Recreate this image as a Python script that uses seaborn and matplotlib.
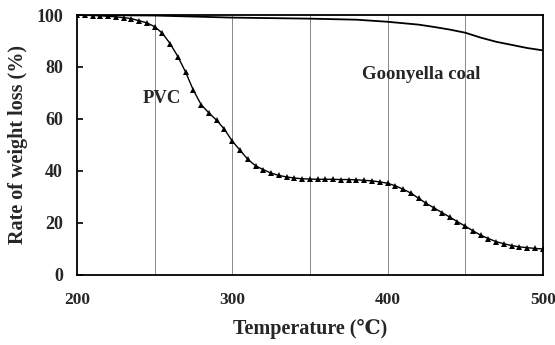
import matplotlib
matplotlib.use("Agg")
import matplotlib.pyplot as plt
import seaborn as sns
import pandas as pd

temp_pvc = list(range(200, 501, 5))
pvc = [100, 99.9, 99.8, 99.7, 99.5, 99.3, 99.0, 98.6, 97.8, 97.0,
       95.5, 93.0, 89.0, 84.0, 78.0, 71.0, 65.5, 62.3, 59.5, 56.0,
       51.5, 48.0, 44.5, 42.0, 40.5, 39.2, 38.3, 37.7, 37.3, 37.0,
       36.9, 36.8, 36.8, 36.8, 36.7, 36.7, 36.6, 36.4, 36.2, 35.8,
       35.3, 34.3, 33.0, 31.5, 29.5, 27.5, 25.8, 24.0, 22.3, 20.5,
       18.8, 17.0, 15.3, 14.0, 12.8, 12.0, 11.3, 10.8, 10.5, 10.2, 10.0]

temp_coal = [200, 250, 300, 350, 380, 400, 420, 430, 440, 450, 460, 470, 480, 490, 500]
coal = [100, 99.8, 99.0, 98.6, 98.2, 97.4, 96.3, 95.4, 94.4, 93.2, 91.3, 89.7, 88.5, 87.3, 86.4]

grid_x = [250, 300, 350, 400, 450]
x_ticks = [200, 300, 400, 500]
y_ticks = [0, 20, 40, 60, 80, 100]

sns.set_style("white")
plt.rcParams['font.family'] = ['Liberation Serif', 'DejaVu Serif']
plt.rcParams['font.weight'] = 'bold'

fig = plt.figure(figsize=(5.55, 3.45), dpi=100)
ax = fig.add_axes([0.1387, 0.203, 0.8393, 0.7535])

for g in grid_x:
    ax.axvline(g, color='#888888', lw=0.7, zorder=0)

df_pvc = pd.DataFrame({'T': temp_pvc, 'W': pvc})
df_coal = pd.DataFrame({'T': temp_coal, 'W': coal})
sns.lineplot(data=df_pvc, x='T', y='W', ax=ax, color='black', lw=1.0,
             marker='^', markersize=3.8, markeredgewidth=0, estimator=None)
sns.lineplot(data=df_coal, x='T', y='W', ax=ax, color='black', lw=1.3, estimator=None)

ax.set_xlim(200, 500)
ax.set_ylim(0, 100)
ax.set_xticks(x_ticks)
ax.set_yticks(y_ticks)
ax.set_xticks(grid_x, minor=True)
ax.tick_params(axis='x', which='major', length=0, pad=12, labelsize=12.5)
ax.tick_params(axis='x', which='minor', direction='in', length=4, width=1.2, color='black')
ax.tick_params(axis='y', direction='in', length=4, width=1.2, color='black', labelsize=13, pad=10, left=True)
for lab in ax.get_xticklabels() + ax.get_yticklabels():
    lab.set_fontweight('bold')
for s in ax.spines.values():
    s.set_visible(True)
    s.set_color('black')
    s.set_linewidth(1.3)

ax.set_xlabel('Temperature (℃)', fontsize=14.5, fontweight='bold', labelpad=8)
ax.set_ylabel('Rate of weight loss (%)', fontsize=14.5, fontweight='bold', labelpad=6)

ax.text(255, 68, 'PVC', fontsize=13.5, fontweight='bold', ha='center', va='center')
ax.text(422, 77, 'Goonyella coal', fontsize=13.5, fontweight='bold', ha='center', va='center')

fig.savefig('out.png', dpi=100)
